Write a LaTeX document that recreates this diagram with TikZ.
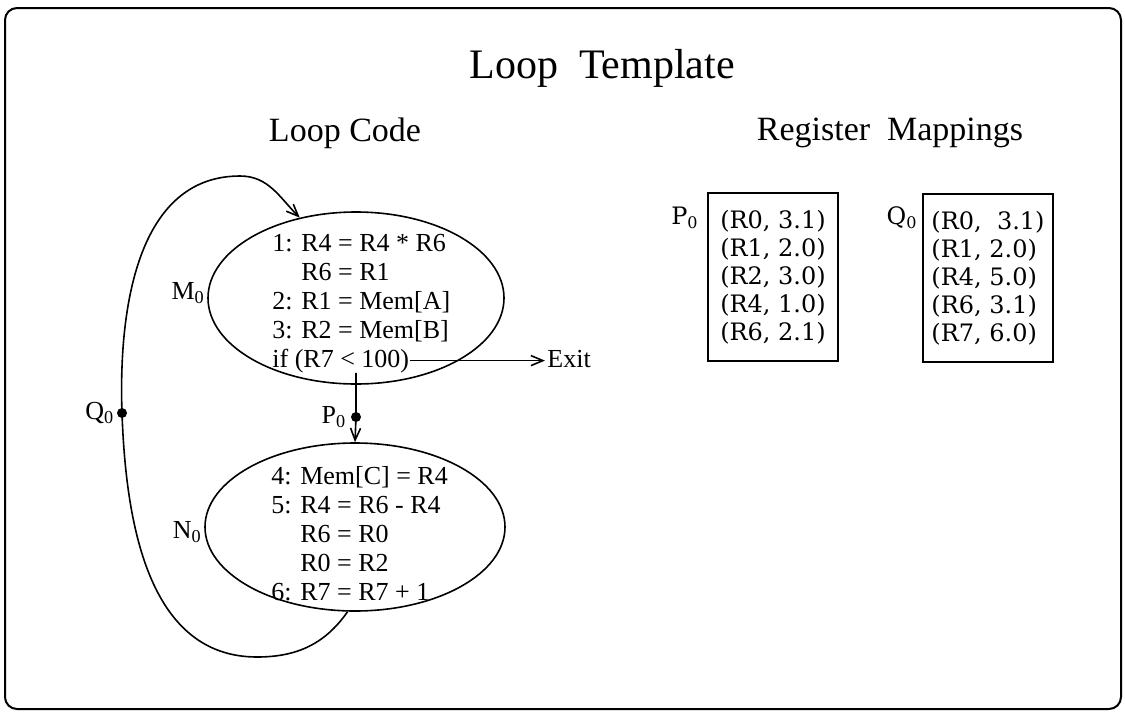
\documentclass[tikz,border=0pt]{standalone}
\usepackage{fontspec}
\setmainfont{Liberation Serif}
\newfontfamily\regfont{DejaVu Serif}
\usetikzlibrary{arrows.meta,positioning,shapes.geometric}
\tikzset{
block/.style={ellipse,draw=black,line width=0.8pt,inner sep=0pt},
code/.style={align=left,inner sep=0pt,font=\fontsize{13}{14.5}\selectfont},
regbox/.style={rectangle,draw=black,line width=0.7pt,minimum width=65pt,minimum height=84pt,inner sep=0pt,align=left,font=\regfont\fontsize{12}{14}\selectfont},
reglbl/.style={inner sep=0pt,font=\regfont\fontsize{12}{14}\selectfont},
dot/.style={circle,fill=black,inner sep=0pt,minimum size=5pt},
lbl/.style={inner sep=1pt,font=\fontsize{13}{14}\selectfont},
head/.style={font=\fontsize{17}{20}\selectfont},
flow/.style={line width=0.8pt,-{Straight Barb[length=6pt,width=5pt]}},
}

\begin{document}
\begin{tikzpicture}[x=0.5pt,y=-0.5pt]
\useasboundingbox (0,0) rectangle (1125,713);
\draw[line width=1pt,rounded corners=6pt] (5,8) rectangle (1121,709);

% headings
\node[font=\fontsize{21}{24}\selectfont] (title) at (602,68) {Loop\ \ Template};
\node[head] (codehead) at (345,133) {Loop Code};
\node[head] (maphead) at (890,133) {Register\ \ Mappings};

% loop code
\node[block,minimum width=148pt,minimum height=86pt] (m) at (356,298) {};
\node[block,minimum width=150pt,minimum height=84pt] (n) at (355,527) {};
\node[code,anchor=north west] (mcode) at (272,234)
  {1: R4 = R4 * R6\\\phantom{1: }R6 = R1\\2: R1 = Mem[A]\\3: R2 = Mem[B]};
\node[code,anchor=base west] (cond) at (272,367) {if (R7 < 100)};
\node[code,anchor=north west] (ncode) at (271,466)
  {4: Mem[C] = R4\\5: R4 = R6 - R4\\\phantom{4: }R6 = R0\\\phantom{4: }R0 = R2\\6: R7 = R7 + 1};
\node[lbl,anchor=east] (mlbl) at ([yshift=2.5pt]m.west) {M\textsubscript{0}};
\node[lbl,anchor=east] (nlbl) at ([yshift=-2.5pt]n.west) {N\textsubscript{0}};
\node[lbl,anchor=base west] (exit) at (545,367) {Exit};
\node[dot] (p0) at (356,417) {};
\node[lbl,left=1pt of p0] (p0lbl) {P\textsubscript{0}};
\node[dot] (q0) at (122,413) {};
\node[lbl,left=0pt of q0] (q0lbl) {Q\textsubscript{0}};
\coordinate (qbot) at (257,657);
\coordinate (qtop) at (240,176);

\draw[flow] (cond.east) -- (cond.east -| exit.west);
\draw[flow] (m.center |- cond.south) -- (p0.center) -- (n.north);
\draw[flow] (n.265) to[out=235,in=0] (qbot) to[out=180,in=-88] (q0.center)
  to[out=92,in=180] (qtop) to[out=0,in=135] (m.125);

% register mappings
\node[regbox] (pmap) at (773,277) {(R0, 3.1)\\(R1, 2.0)\\(R2, 3.0)\\(R4, 1.0)\\(R6, 2.1)};
\node[regbox] (qmap) at (988,278) {(R0,\ \ 3.1)\\(R1, 2.0)\\(R4, 5.0)\\(R6, 3.1)\\(R7, 6.0)};
\node[reglbl] (pmaplbl) at (685,218) {P\textsubscript{0}};
\node[reglbl] (qmaplbl) at (902,218) {Q\textsubscript{0}};
\end{tikzpicture}
\end{document}
